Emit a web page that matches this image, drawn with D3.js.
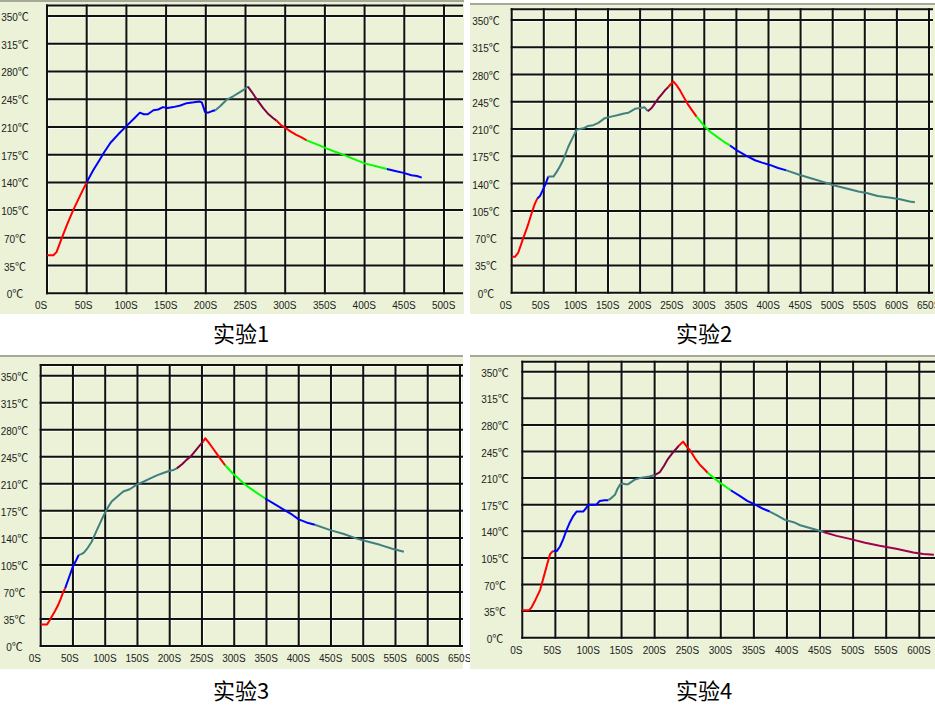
<!DOCTYPE html>
<html>
<head>
<meta charset="utf-8">
<script src="https://cdn.jsdelivr.net/npm/d3@7"></script>
<style>
body { margin: 0; background: #fff; }
svg { display: block; }
</style>
</head>
<body>
<svg width="935" height="705"></svg>
<script>
// tick labels
var tempTicks = [0, 35, 70, 105, 140, 175, 210, 245, 280, 315, 350];
var timeTicks500 = [0, 50, 100, 150, 200, 250, 300, 350, 400, 450, 500];
var timeTicks650 = [0, 50, 100, 150, 200, 250, 300, 350, 400, 450, 500, 550, 600, 650];
var timeTicks600 = [0, 50, 100, 150, 200, 250, 300, 350, 400, 450, 500, 550, 600];
var titles = ["实验1", "实验2", "实验3", "实验4"];

// 实验1
var time1 = [0, 8, 12, 18, 25, 33, 42, 50, 58, 66, 72, 80, 90, 100, 110, 117, 122, 127, 134, 140, 146, 152, 159, 168, 176, 185, 192, 195, 197, 199, 203, 208, 212, 218, 226, 235, 243, 248, 253, 258, 262, 267, 272, 278, 285, 289, 295, 300, 307, 314, 320, 327, 340, 352, 362, 373, 385, 400, 412, 428, 440, 449, 459, 466, 472];
var temp1 = [48, 48, 52, 68, 86, 105, 124, 140, 155, 168, 178, 190, 201, 211, 221, 228, 226, 226, 231, 232, 235, 234, 235, 237, 240, 241, 242, 241, 235, 229, 228, 230, 231, 236, 244, 249, 254, 257, 261, 254, 248, 241, 234, 227, 221, 218, 212, 209, 204, 200, 197, 193, 188, 183, 179, 175, 170, 164, 161, 157, 154, 152, 149, 148, 146];
var breaks1 = [0, 50, 212, 253, 289, 327, 428, 472];
var colors1 = ["#ff0000", "#0000ff", "#408080", "#800040", "#ff0000", "#00ff00", "#0000ff"];

// 实验2
var time2 = [0, 5, 10, 18, 25, 31, 36, 40, 44, 48, 52, 57, 61, 65, 70, 75, 80, 88, 95, 101, 106, 112, 119, 127, 135, 145, 155, 166, 175, 182, 192, 200, 207, 210, 212, 218, 223, 228, 234, 239, 244, 248, 252, 257, 262, 268, 275, 281, 288, 295, 301, 310, 320, 330, 340, 352, 365, 379, 390, 402, 415, 428, 449, 470, 490, 501, 520, 540, 553, 570, 590, 605, 620, 628];
var temp2 = [46, 46, 51, 70, 86, 102, 114, 121, 124, 131, 138, 149, 149, 149, 155, 162, 170, 187, 199, 209, 210, 211, 214, 215, 218, 224, 226, 228, 230, 231, 236, 237, 238, 235, 233, 237, 243, 249, 255, 260, 264, 268, 271, 266, 260, 251, 241, 234, 226, 219, 213, 206, 200, 194, 189, 182, 176, 170, 167, 164, 160, 157, 151, 146, 141, 138, 134, 130, 128, 124, 122, 120, 117, 116];
var breaks2 = [0, 40, 57, 212, 244, 288, 340, 428, 628];
var colors2 = ["#ff0000", "#0000ff", "#408080", "#800040", "#ff0000", "#00ff00", "#0000ff", "#408080"];

// 实验3
var time3 = [0, 10, 13, 17, 22, 27, 31, 35, 38, 44, 50, 55, 59, 63, 67, 72, 79, 86, 92, 97, 102, 106, 110, 118, 128, 138, 149, 160, 170, 180, 190, 200, 206, 211, 220, 226, 232, 240, 246, 252, 255, 260, 266, 272, 278, 286, 297, 309, 320, 334, 348, 362, 376, 390, 400, 412, 425, 449, 470, 490, 508, 526, 545, 563];
var temp3 = [28, 28, 32, 38, 45, 53, 61, 70, 75, 89, 103, 111, 118, 119, 121, 126, 135, 148, 159, 168, 176, 182, 187, 193, 200, 203, 209, 213, 217, 221, 224, 227, 228, 230, 236, 241, 245, 253, 259, 265, 269, 264, 257, 250, 243, 234, 224, 215, 207, 199, 191, 184, 177, 170, 164, 160, 157, 150, 145, 139, 135, 131, 126, 122];
var breaks3 = [0, 38, 59, 211, 252, 286, 348, 425, 563];
var colors3 = ["#ff0000", "#0000ff", "#408080", "#800040", "#ff0000", "#00ff00", "#0000ff", "#408080"];

// 实验4
var time4 = [0, 10, 14, 20, 27, 33, 38, 42, 45, 47, 52, 57, 62, 67, 72, 77, 82, 87, 92, 96, 100, 106, 112, 117, 124, 130, 135, 140, 144, 148, 152, 156, 160, 165, 170, 178, 185, 192, 200, 208, 214, 220, 226, 232, 237, 243, 248, 254, 261, 268, 276, 280, 290, 300, 307, 315, 328, 340, 352, 363, 374, 385, 397, 410, 420, 432, 444, 455, 475, 495, 518, 540, 565, 591, 606, 622];
var temp4 = [36, 36, 40, 50, 63, 82, 98, 110, 113, 114, 114, 120, 130, 142, 152, 160, 166, 166, 166, 170, 175, 175, 175, 180, 181, 181, 184, 188, 196, 202, 203, 202, 202, 205, 208, 210, 211, 212, 214, 218, 226, 235, 242, 248, 253, 258, 252, 246, 236, 228, 221, 217, 210, 203, 199, 194, 187, 180, 175, 170, 166, 161, 155, 152, 148, 145, 142, 139, 134, 130, 125, 121, 117, 112, 110, 109];
var breaks4 = [0, 47, 130, 200, 237, 280, 315, 374, 455, 622];
var colors4 = ["#ff0000", "#0000ff", "#408080", "#800040", "#ff0000", "#00ff00", "#0000ff", "#408080", "#a0004c"];

var svg = d3.select("svg");

var panels = [
  { time: time1, temp: temp1, breaks: breaks1, colors: colors1, ticks: timeTicks500, title: titles[0],
    bg: [0, 0, 464, 314], x0: 47, x1: 444, y0: 293.3, y1: 16, top: 5.5, right: 463, labelX: 15, titleX: 241, titleY: 342 },
  { time: time2, temp: temp2, breaks: breaks2, colors: colors2, ticks: timeTicks650, title: titles[1],
    bg: [470, 3, 935, 314], x0: 511.7, x1: 929, y0: 292.7, y1: 20, top: 9.3, right: 933, labelX: 486, titleX: 704, titleY: 342 },
  { time: time3, temp: temp3, breaks: breaks3, colors: colors3, ticks: timeTicks650, title: titles[2],
    bg: [0, 355, 463, 669], x0: 40.7, x1: 460, y0: 646, y1: 375.7, top: 365, right: 463, labelX: 14.5, titleX: 241, titleY: 699 },
  { time: time4, temp: temp4, breaks: breaks4, colors: colors4, ticks: timeTicks600, title: titles[3],
    bg: [470, 355, 935, 669], x0: 522.3, x1: 919.3, y0: 637.7, y1: 371.7, top: 361.7, right: 935, labelX: 495, titleX: 704, titleY: 699 }
];

panels.forEach(function(p) {
  var g = svg.append("g");
  var tMax = p.ticks[p.ticks.length - 1];
  var x = d3.scaleLinear().domain([0, tMax]).range([p.x0, p.x1]);
  var y = d3.scaleLinear().domain([0, 350]).range([p.y0, p.y1]);

  // panel background
  g.append("rect")
    .attr("x", p.bg[0]).attr("y", p.bg[1])
    .attr("width", p.bg[2] - p.bg[0]).attr("height", p.bg[3] - p.bg[1])
    .attr("fill", "#ebf2d7");
  g.append("rect")
    .attr("x", p.bg[0]).attr("y", p.bg[1])
    .attr("width", p.bg[2] - p.bg[0]).attr("height", 2)
    .attr("fill", "#a8a898");

  // grid: light line beside every dark one
  var grid = g.append("g");
  var xs = p.ticks.map(x);
  var ys = tempTicks.map(y).concat([p.top]);
  xs.forEach(function(px) {
    grid.append("line").attr("x1", px + 1.5).attr("x2", px + 1.5).attr("y1", p.top).attr("y2", p.y0)
      .attr("stroke", "#ffffff").attr("stroke-width", 1).attr("opacity", 0.8);
  });
  ys.forEach(function(py) {
    grid.append("line").attr("x1", p.x0).attr("x2", p.right).attr("y1", py + 1.5).attr("y2", py + 1.5)
      .attr("stroke", "#ffffff").attr("stroke-width", 1).attr("opacity", 0.8);
  });
  xs.forEach(function(px) {
    grid.append("line").attr("x1", px).attr("x2", px).attr("y1", p.top - 1).attr("y2", p.y0 + 1)
      .attr("stroke", "#111").attr("stroke-width", 2);
  });
  ys.forEach(function(py) {
    grid.append("line").attr("x1", p.x0 - 1).attr("x2", p.right).attr("y1", py).attr("y2", py)
      .attr("stroke", "#111").attr("stroke-width", 2);
  });

  // axis labels
  g.selectAll(".xl").data(p.ticks).enter().append("text")
    .attr("x", function(d) { return x(d) - 12; })
    .attr("y", p.y0 + 16)
    .attr("font-family", "Liberation Sans, Arial, sans-serif")
    .attr("font-size", "10px")
    .attr("fill", "#222")
    .text(function(d) { return d + "S"; });
  var yl = g.selectAll(".yl").data(tempTicks).enter().append("text")
    .attr("x", p.labelX)
    .attr("y", function(d) { return y(d) + 5; })
    .attr("text-anchor", "middle")
    .attr("font-family", "Liberation Sans, Arial, sans-serif")
    .attr("font-size", "10px")
    .attr("fill", "#222");
  yl.append("tspan").text(function(d) { return d; });
  yl.append("tspan")
    .attr("font-family", "Noto Sans CJK SC, sans-serif")
    .attr("font-size", "11px")
    .text("℃");

  // curve, coloured piece by piece
  var pts = p.time.map(function(t, i) { return { t: t, v: p.temp[i] }; });
  var line = d3.line().x(function(d) { return x(d.t); }).y(function(d) { return y(d.v); });
  for (var i = 0; i < p.colors.length; i++) {
    var a = p.breaks[i], b = p.breaks[i + 1];
    var seg = pts.filter(function(d) { return d.t >= a && d.t <= b; });
    g.append("path").datum(seg)
      .attr("d", line)
      .attr("fill", "none")
      .attr("stroke", p.colors[i])
      .attr("stroke-width", 2)
      .attr("stroke-linejoin", "round");
  }

  g.append("text")
    .attr("x", p.titleX).attr("y", p.titleY)
    .attr("text-anchor", "middle")
    .attr("font-family", "Noto Sans CJK SC, sans-serif")
    .attr("font-size", "22px")
    .attr("fill", "#000")
    .text(p.title);
});
</script>
</body>
</html>
